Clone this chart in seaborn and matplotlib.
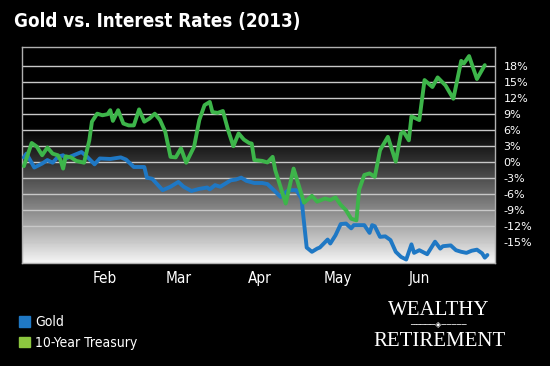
#%%
import numpy as np
import pandas as pd
import matplotlib
matplotlib.use('Agg')
import matplotlib.pyplot as plt
import seaborn as sns
from matplotlib.patches import Patch
from matplotlib import font_manager


# day of year (2013) and % change
gold_day = [1, 2, 5, 8, 10, 12, 14, 16, 17, 20, 23, 25, 28, 30, 34, 38, 40, 43, 47, 48,
            50, 54, 57, 60, 62, 65, 68, 71, 72, 74, 76, 80, 82, 84, 86, 89, 92, 94, 97, 99,
            102, 105, 107, 109, 111, 113, 114, 117, 118, 120, 122, 124, 126, 127, 131, 133,
            134, 135, 137, 139, 141, 143, 145, 147, 149, 150, 152, 155, 158, 160, 161, 164,
            166, 168, 170, 172, 174, 176, 177, 178]
gold_pct = [0.9, 1.6, -1.0, -0.25, 0.4, -0.1, 1.0, 1.3, 0.7, 1.3, 1.9, 1.1, -0.4, 0.7, 0.6,
            0.9, 0.5, -0.9, -0.9, -2.9, -3.1, -5.25, -4.6, -3.7, -4.6, -5.4, -5.0, -4.75,
            -5.1, -4.3, -4.6, -3.4, -3.25, -2.9, -3.5, -3.9, -3.9, -4.1, -5.5, -6.5, -5.25,
            -5.25, -6.8, -16.0, -16.8, -16.2, -16.0, -14.5, -15.25, -13.7, -11.6, -11.5,
            -12.4, -11.8, -11.8, -13.25, -11.8, -12.0, -14.0, -13.9, -14.6, -16.8, -17.75,
            -18.25, -15.4, -17.0, -16.5, -17.25, -14.9, -16.2, -15.75, -15.6, -16.5, -16.8,
            -17.0, -16.6, -16.4, -17.1, -17.9, -17.4]

tsy_day = [1, 4, 6, 8, 10, 12, 14, 15, 16, 17, 19, 21, 24, 26, 27, 29, 31, 33, 34, 35, 37,
           39, 41, 43, 45, 47, 49, 51, 53, 55, 57, 59, 61, 63, 66, 68, 70, 72, 73, 75, 77,
           79, 81, 83, 85, 87, 88, 89, 92, 94, 96, 97, 101, 104, 108, 111, 113, 116, 118,
           120, 122, 124, 126, 128, 129, 131, 133, 135, 137, 140, 143, 145, 146, 148, 149,
           152, 154, 157, 159, 162, 165, 168, 169, 171, 174, 177]
tsy_pct = [-0.75, 3.6, 2.9, 1.3, 2.75, 1.6, 1.3, 0.4, -1.2, 1.1, 0.9, 0.25, -0.1, 4.1, 7.6,
           9.1, 8.8, 9.0, 9.75, 7.75, 9.75, 7.25, 6.9, 6.9, 9.9, 7.6, 8.2, 9.1, 7.9, 5.7,
           1.0, 0.9, 2.6, -0.1, 2.9, 7.9, 10.7, 11.3, 9.4, 9.25, 9.6, 6.0, 3.0, 5.4, 4.25,
           3.6, 3.5, 0.4, 0.25, -0.05, 1.0, -1.5, -7.75, -1.2, -7.6, -6.3, -7.4, -6.8, -7.1,
           -6.6, -8.0, -9.0, -10.6, -10.9, -5.2, -2.4, -2.1, -2.75, 2.25, 4.75, 0.1, 5.4,
           5.7, 4.1, 8.6, 7.9, 15.4, 14.1, 15.9, 14.4, 11.9, 19.0, 18.5, 19.9, 15.6, 18.2]

month_day = [32, 60, 91, 121, 152]
month_lbl = ['Feb', 'Mar', 'Apr', 'May', 'Jun']
pct_ticks = list(range(-15, 19, 3))

gold_blue = '#1f78c4'
tsy_green = '#3db54a'
legend_green = '#8cc63f'

#%%
sns.set_theme(style='dark')
plt.rcParams['font.family'] = ['DejaVu Sans']
serif = ['Liberation Serif', 'DejaVu Serif']

# condensed face for title, month labels and legend
cond_bold = font_manager.FontProperties(family='DejaVu Sans', stretch='condensed',
                                        weight='bold', size=13.5)
cond_tick = font_manager.FontProperties(family='DejaVu Sans', stretch='condensed', size=11)
cond_lbl = font_manager.FontProperties(family='DejaVu Sans', stretch='condensed', size=10)

fig = plt.figure(figsize=(5.5, 3.66), dpi=100, facecolor='black')
ax = fig.add_axes([22 / 550, 1 - 263 / 366, (495 - 22) / 550, (263 - 47) / 366])

# black-to-white background of the plot area
f = np.linspace(1, 0, 256)[:, None]
shade = np.clip((0.64 - f) / 0.64, 0, 1) ** 1.2 * 0.96
ax.imshow(shade, extent=(0, 1, 0, 1), transform=ax.transAxes, cmap='gray',
          vmin=0, vmax=1, aspect='auto', zorder=0)

df_gold = pd.DataFrame({'day': gold_day, 'pct': gold_pct})
df_tsy = pd.DataFrame({'day': tsy_day, 'pct': tsy_pct})
sns.lineplot(data=df_gold, x='day', y='pct', color=gold_blue, lw=2.8, ax=ax, zorder=3)
sns.lineplot(data=df_tsy, x='day', y='pct', color=tsy_green, lw=2.8, ax=ax, zorder=4)

ax.set_xlim(0.3, 180.9)
ax.set_ylim(-18.9, 21.6)
ax.set(xlabel='', ylabel='')

ax.set_axisbelow(True)
ax.yaxis.grid(True, color='#c8c8c8', lw=1)
ax.xaxis.grid(False)
for sp in ax.spines.values():
    sp.set_color('#b0b0b0')
    sp.set_linewidth(1)

ax.yaxis.tick_right()
ax.set_yticks(pct_ticks)
ax.set_yticklabels([f'{v}%' for v in pct_ticks])
ax.tick_params(axis='y', length=0, pad=6, labelcolor='white', labelsize=8)

ax.set_xticks(month_day)
ax.set_xticklabels(month_lbl, fontproperties=cond_tick)
ax.tick_params(axis='x', length=0, pad=6, labelcolor='white')

fig.text(0.025, 0.94, 'Gold vs. Interest Rates (2013)', color='white',
         fontproperties=cond_bold, va='center', ha='left')

handles = [Patch(color=gold_blue, label='Gold'),
           Patch(color=legend_green, label='10-Year Treasury')]
fig.legend(handles=handles, loc='lower left', bbox_to_anchor=(0.035, 0.045), frameon=False,
           handlelength=0.75, handleheight=0.75, handletextpad=0.4, labelspacing=0.45,
           borderpad=0, borderaxespad=0, labelcolor='white', prop=cond_lbl)

# logo
fig.text(0.797, 0.153, 'WEALTHY', color='white', fontsize=15, family=serif,
         ha='center', va='center')
fig.text(0.797, 0.112, '\u2500' * 5 + '\u25c8' + '\u2500' * 5, color='white', fontsize=6,
         ha='center', va='center')
fig.text(0.8, 0.068, 'RETIREMENT', color='white', fontsize=15, family=serif,
         ha='center', va='center')

fig.savefig('out.png', dpi=100, facecolor='black')
